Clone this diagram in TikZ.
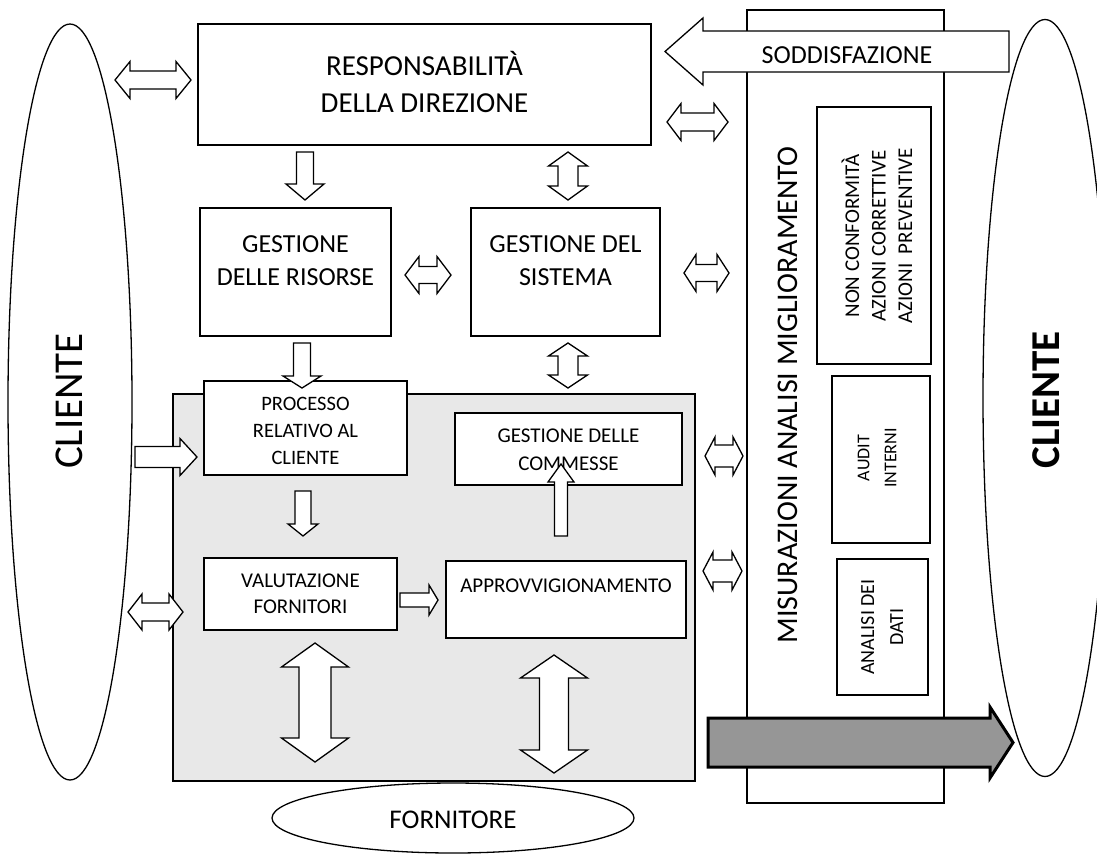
\documentclass[tikz,border=0pt]{standalone}
\usepackage{fontspec}
\setmainfont{Carlito}
\usetikzlibrary{shapes.geometric}
\definecolor{panel}{RGB}{232,232,232}
\definecolor{flow}{RGB}{150,150,150}

% block arrows: #2,#3 extent along the arrow, #4 centre line, #5 head half-width, #6 shaft half-width, #7 head length
\newcommand{\blkDH}[7][arr]{\draw[#1] (#2,#4) -- (#2+#7,#4-#5) -- (#2+#7,#4-#6) -- (#3-#7,#4-#6) -- (#3-#7,#4-#5) -- (#3,#4) -- (#3-#7,#4+#5) -- (#3-#7,#4+#6) -- (#2+#7,#4+#6) -- (#2+#7,#4+#5) -- cycle;}
\newcommand{\blkDV}[7][arr]{\draw[#1] (#4,#2) -- (#4+#5,#2+#7) -- (#4+#6,#2+#7) -- (#4+#6,#3-#7) -- (#4+#5,#3-#7) -- (#4,#3) -- (#4-#5,#3-#7) -- (#4-#6,#3-#7) -- (#4-#6,#2+#7) -- (#4-#5,#2+#7) -- cycle;}
\newcommand{\blkR}[7][arr]{\draw[#1] (#2,#4-#6) -- (#3-#7,#4-#6) -- (#3-#7,#4-#5) -- (#3,#4) -- (#3-#7,#4+#5) -- (#3-#7,#4+#6) -- (#2,#4+#6) -- cycle;}
\newcommand{\blkL}[7][arr]{\draw[#1] (#2,#4) -- (#2+#7,#4-#5) -- (#2+#7,#4-#6) -- (#3,#4-#6) -- (#3,#4+#6) -- (#2+#7,#4+#6) -- (#2+#7,#4+#5) -- cycle;}
\newcommand{\blkD}[7][arr]{\draw[#1] (#4-#6,#2) -- (#4+#6,#2) -- (#4+#6,#3-#7) -- (#4+#5,#3-#7) -- (#4,#3) -- (#4-#5,#3-#7) -- (#4-#6,#3-#7) -- cycle;}
\newcommand{\blkU}[7][arr]{\draw[#1] (#4,#2) -- (#4+#5,#2+#7) -- (#4+#6,#2+#7) -- (#4+#6,#3) -- (#4-#6,#3) -- (#4-#6,#2+#7) -- (#4-#5,#2+#7) -- cycle;}

\tikzset{
  box/.style={draw=black, line width=1.6pt, fill=white, inner sep=0pt, outer sep=0pt, anchor=north west},
  arr/.style={draw=black, line width=1.3pt, fill=white, line join=miter},
  oval/.style={ellipse, draw=black, line width=1.3pt, fill=white, inner sep=0pt},
  lbl/.style={align=center, inner sep=0pt, text=black},
}

\begin{document}
\begin{tikzpicture}[x=1pt, y=-1pt]
\useasboundingbox[fill=white] (0,0) rectangle (1097,855);

% customers on both sides
\node[oval, minimum width=124pt, minimum height=756pt] (cliL) at (70,402) {};
\node[lbl, rotate=90, font=\fontsize{41}{49}\selectfont] (cliLt) at (69,401) {CLIENTE};
\node[oval, minimum width=124pt, minimum height=757pt] (cliR) at (1045,398) {};
\node[lbl, rotate=90, font=\fontsize{41}{49}\selectfont\bfseries] (cliRt) at (1046,400) {CLIENTE};

% measurement column
\node[box, line width=1.3pt, minimum width=197pt, minimum height=793pt] (mis) at (747,10) {};
\node[lbl, rotate=90, font=\fontsize{30}{36}\selectfont] (mist) at (788,395) {MISURAZIONI ANALISI MIGLIORAMENTO};
\node[box, minimum width=114pt, minimum height=257pt] (nc) at (817,107) {};
\node[lbl, rotate=90, font=\fontsize{21}{26.5}\selectfont] (nct) at (877,236) {NON CONFORMITÀ\\AZIONI CORRETTIVE\\AZIONI\ \ PREVENTIVE};
\node[box, minimum width=98pt, minimum height=167pt] (aud) at (832,376) {};
\node[lbl, rotate=90, font=\fontsize{18}{27}\selectfont] (audt) at (877,458) {AUDIT\\INTERNI};
\node[box, minimum width=91pt, minimum height=136pt] (dat) at (837,559) {};
\node[lbl, rotate=90, font=\fontsize{20}{29}\selectfont] (datt) at (882,627) {ANALISI DEI\\DATI};

% satisfaction feedback
\blkL{665}{1009}{51.5}{33.5}{20.5}{38}
\node[lbl, font=\fontsize{26}{31}\selectfont] (sod) at (847,55) {SODDISFAZIONE};

% management
\node[box, minimum width=453pt, minimum height=121pt] (resp) at (198,24) {};
\node[lbl, font=\fontsize{29}{37}\selectfont] (respt) at (424.5,82) {RESPONSABILITÀ\\DELLA DIREZIONE};
\node[box, minimum width=191pt, minimum height=128pt] (ris) at (200,208) {};
\node[lbl, font=\fontsize{26}{33}\selectfont] (rist) at (295.5,261) {GESTIONE\\DELLE RISORSE};
\node[box, minimum width=189pt, minimum height=128pt] (sis) at (471,208) {};
\node[lbl, font=\fontsize{26}{33}\selectfont] (sist) at (565.5,261) {GESTIONE DEL\\SISTEMA};

% realisation panel
\node[box, fill=panel, line width=1.8pt, minimum width=522pt, minimum height=387pt] (panel) at (173,394) {};
\node[box, minimum width=203pt, minimum height=94pt] (proc) at (204,381) {};
\node[lbl, font=\fontsize{20.5}{27}\selectfont] (proct) at (305.5,431) {PROCESSO\\RELATIVO AL\\CLIENTE};
\node[box, minimum width=227pt, minimum height=72pt] (comm) at (455,413) {};
\node[lbl, font=\fontsize{21}{28}\selectfont] (commt) at (568.5,450) {GESTIONE DELLE\\COMMESSE};
\node[box, minimum width=193pt, minimum height=72pt] (val) at (204,558) {};
\node[lbl, font=\fontsize{21}{26}\selectfont] (valt) at (300.5,594) {VALUTAZIONE\\FORNITORI};
\node[box, minimum width=240pt, minimum height=77pt] (appr) at (446,561) {};
\node[lbl, font=\fontsize{21}{26}\selectfont] (apprt) at (566,586) {APPROVVIGIONAMENTO};

% supplier
\node[oval, minimum width=362pt, minimum height=70pt] (forn) at (453,818) {};
\node[lbl, font=\fontsize{27}{32}\selectfont] (fornt) at (453,820) {FORNITORE};

% exchanges
\blkDH{115}{191}{80}{18.5}{9}{15}
\blkDH{667}{728}{122}{18.5}{9}{14}
\blkD{152}{200}{305}{19}{8.5}{16}
\blkDV{152}{200}{568}{19.5}{10}{14}
\blkDH{405}{451}{275}{18.5}{8.5}{14}
\blkDH{684}{729}{273}{18.5}{8.5}{12}
\blkD{343}{388}{302}{19}{8.5}{12}
\blkDV{343}{388}{568}{19.5}{10}{13}
\blkR{135}{197}{457}{18.5}{10.5}{17}
\blkD{491}{536}{303}{15}{8}{12}
\blkU{464}{536}{561}{13}{6.5}{18}
\blkR{400}{438}{600}{15}{7}{9}
\blkDH{128}{183}{612}{18}{9}{14}
\blkDH{705}{743}{456}{19}{11}{10}
\blkDH{703}{742}{571}{19}{11}{10}
\blkDV{643}{762}{315}{33.5}{16}{24}
\blkDV{655}{773}{554}{33.5}{14.5}{23}

% improvement flow
\blkR[draw=black, line width=3pt, fill=flow, line join=miter]{708}{1013}{742.5}{35.5}{24.5}{23}
\end{tikzpicture}
\end{document}
